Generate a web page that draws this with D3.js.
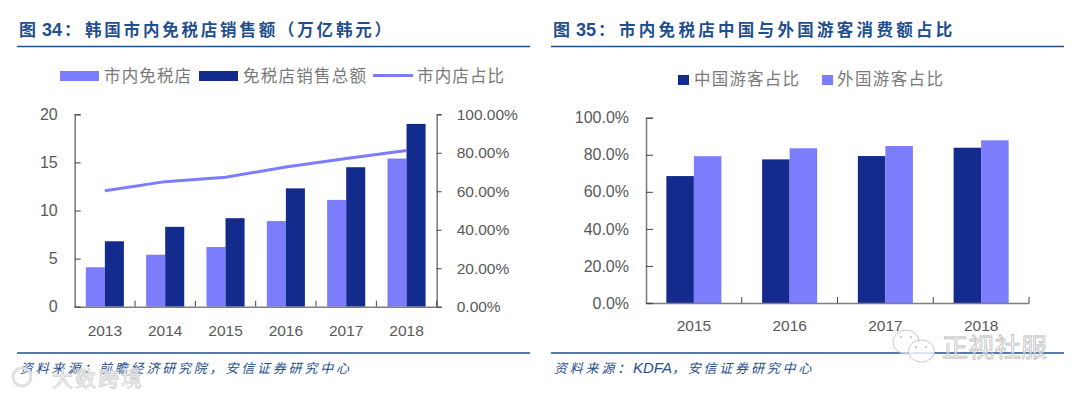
<!DOCTYPE html>
<html>
<head>
<meta charset="utf-8">
<script src="https://cdn.jsdelivr.net/npm/d3@7"></script>
<style>
    html, body { margin: 0; padding: 0; background: #fff; }
    svg { display: block; }
    text { font-family: "Noto Sans CJK SC", sans-serif; }
    .tick text, .num { font-family: "Liberation Sans", sans-serif; }
</style>
</head>
<body>
<div class="canvas"></div>
<script>
// left chart data
const years34 = ['2013', '2014', '2015', '2016', '2017', '2018'];
const citySales = [4.1, 5.4, 6.2, 8.9, 11.1, 15.4];
const totalSales = [6.8, 8.3, 9.2, 12.3, 14.5, 19.0];
const cityShare = [60.3, 65, 67.3, 72.6, 77, 81.2];
const ticks34Left = [0, 5, 10, 15, 20];
const ticks34Right = [0, 20, 40, 60, 80, 100];

// right chart data
const years35 = ['2015', '2016', '2017', '2018'];
const chinaShare = [68.5, 77.5, 79.3, 83.8];
const foreignShare = [79.2, 83.5, 84.7, 87.8];
const ticks35 = [0, 20, 40, 60, 80, 100];

const DARK = '#122b8c';
const LIGHT = '#7b7dfc';
const BLUE = '#1f4f8f';
const AXIS = '#808080';
const TEXT = '#595959';

const svg = d3.select('.canvas')
    .append('svg')
    .attr('width', 1080)
    .attr('height', 394);

// header, rules and source note of one panel
function frame(x0, x1, figNo, title, spacing, sourceParts) {
    const head = svg.append('g').attr('font-weight', 700).attr('fill', BLUE);
    head.append('text').attr('x', x0 + 2).attr('y', 36).attr('font-size', 17).text('图');
    head.append('text').attr('class', 'num').attr('x', x0 + 25).attr('y', 36).attr('font-size', 18).text(figNo);
    head.append('text').attr('x', x0 + 47).attr('y', 36).attr('font-size', 16.5).text('：');
    head.append('text').attr('x', x0 + 68).attr('y', 36).attr('font-size', 16.5)
        .attr('letter-spacing', spacing).text(title);

    [46.5, 353].forEach(y => {
        svg.append('line').attr('x1', x0).attr('x2', x1).attr('y1', y).attr('y2', y)
            .attr('stroke', BLUE).attr('stroke-width', 1.5);
    });

    const src = svg.append('text').attr('x', x0 + 3).attr('y', 373)
        .attr('font-style', 'italic').attr('fill', BLUE);
    sourceParts.forEach(part => {
        const latin = /^[A-Z]+$/.test(part);
        src.append('tspan')
            .attr('class', latin ? 'num' : null)
            .attr('font-size', latin ? 15 : 13)
            .attr('letter-spacing', latin ? 0 : 2.8)
            .text(part);
    });
}

function legendText(x, y, len, label) {
    svg.append('text').attr('x', x).attr('y', y)
        .attr('font-size', 16.5).attr('fill', '#7a7a7a')
        .attr('textLength', len).attr('lengthAdjust', 'spacing')
        .text(label);
}

// tick marks between the categories, pointing up from the x axis
function bandEdges(group, x, h) {
    group.selectAll('line.edge')
        .data(x.domain())
        .enter()
        .append('line')
        .attr('class', 'edge')
        .attr('x1', d => x(d) + x.step())
        .attr('x2', d => x(d) + x.step())
        .attr('y1', h)
        .attr('y2', h - 6)
        .attr('stroke', '#444');
}

function styleAxis(group, size) {
    group.selectAll('.domain').attr('stroke', AXIS).attr('stroke-width', 1.6);
    group.selectAll('.tick line').attr('stroke', '#444');
    group.selectAll('.tick text').attr('fill', TEXT).attr('font-size', size);
}

function groupedBars(graph, x, series, names, colors, y, h, pad) {
    const inner = d3.scaleBand()
        .domain(names)
        .range([0, x.bandwidth()])
        .paddingInner(0)
        .paddingOuter(pad);
    names.forEach((name, i) => {
        graph.selectAll('rect.s' + i)
            .data(series[i])
            .enter()
            .append('rect')
            .attr('class', 's' + i)
            .attr('x', (d, j) => x(x.domain()[j]) + inner(name))
            .attr('y', d => y(d))
            .attr('width', inner.bandwidth())
            .attr('height', d => h - y(d))
            .attr('fill', colors[i]);
    });
}

/* figure 34 */
frame(17, 530, '34', '韩国市内免税店销售额（万亿韩元）', 2.8, ['资料来源：前瞻经济研究院，安信证券研究中心']);

const w34 = 362, h34 = 192.4;
const g34 = svg.append('g').attr('transform', 'translate(74.7, 114.3)');

const x34 = d3.scaleBand().domain(years34).range([0, w34]);
const y34 = d3.scaleLinear().domain([0, 20]).range([h34, 0]);
const yShare34 = d3.scaleLinear().domain([0, 100]).range([h34, 0]);

groupedBars(g34, x34, [citySales, totalSales], ['city', 'total'], [LIGHT, DARK], y34, h34, 0.585);

const share34 = d3.line()
    .x((d, i) => x34(years34[i]) + x34.bandwidth() / 2)
    .y(d => yShare34(d));

g34.append('path')
    .attr('d', share34(cityShare))
    .attr('fill', 'none')
    .attr('stroke', LIGHT)
    .attr('stroke-width', 3);

const xAxis34 = g34.append('g').attr('transform', `translate(0, ${h34})`)
    .call(d3.axisBottom(x34).tickSize(0).tickPadding(18));
const yAxis34 = g34.append('g')
    .call(d3.axisLeft(y34).tickValues(ticks34Left).tickSize(-6).tickPadding(17));
const yAxisR34 = g34.append('g').attr('transform', `translate(${w34}, 0)`)
    .call(d3.axisRight(yShare34).tickValues(ticks34Right).tickSize(5).tickPadding(15)
        .tickFormat(d => d.toFixed(2) + '%'));

styleAxis(xAxis34, 15.5);
styleAxis(yAxis34, 16);
styleAxis(yAxisR34, 15.5);
bandEdges(g34, x34, h34);

svg.append('rect').attr('x', 60).attr('y', 71).attr('width', 39).attr('height', 10).attr('fill', LIGHT);
legendText(104, 82, 87, '市内免税店');
svg.append('rect').attr('x', 199).attr('y', 71).attr('width', 39).attr('height', 10).attr('fill', DARK);
legendText(243, 82, 123, '免税店销售总额');
svg.append('line').attr('x1', 373).attr('x2', 413).attr('y1', 75.5).attr('y2', 75.5)
    .attr('stroke', LIGHT).attr('stroke-width', 3);
legendText(417, 82, 87, '市内店占比');

/* figure 35 */
frame(551, 1064, '35', '市内免税店中国与外国游客消费额占比', 3.3, ['资料来源：', 'KDFA', '，安信证券研究中心']);

const w35 = 383, h35 = 185.3;
const g35 = svg.append('g').attr('transform', 'translate(646, 117.7)');

const x35 = d3.scaleBand().domain(years35).range([0, w35]);
const y35 = d3.scaleLinear().domain([0, 100]).range([h35, 0]);

groupedBars(g35, x35, [chinaShare, foreignShare], ['china', 'foreign'], [DARK, LIGHT], y35, h35, 0.74);

const xAxis35 = g35.append('g').attr('transform', `translate(0, ${h35})`)
    .call(d3.axisBottom(x35).tickSize(0).tickPadding(17));
const yAxis35 = g35.append('g')
    .call(d3.axisLeft(y35).tickValues(ticks35).tickSize(-7).tickPadding(17)
        .tickFormat(d => d.toFixed(1) + '%'));

styleAxis(xAxis35, 15.5);
styleAxis(yAxis35, 16);
bandEdges(g35, x35, h35);

svg.append('rect').attr('x', 678).attr('y', 75).attr('width', 11).attr('height', 10).attr('fill', DARK);
legendText(694, 85, 105, '中国游客占比');
svg.append('rect').attr('x', 822).attr('y', 75).attr('width', 11).attr('height', 10).attr('fill', LIGHT);
legendText(837, 85, 106, '外国游客占比');

/* watermarks */
const wm = svg.append('g').attr('fill', '#fff').attr('stroke', '#bdbdbd').attr('stroke-width', 0.8);
wm.append('text').attr('x', 942).attr('y', 357).attr('font-size', 26).attr('fill-opacity', 0.55)
    .attr('textLength', 105).text('正视社服');
wm.append('ellipse').attr('cx', 906).attr('cy', 342).attr('rx', 13).attr('ry', 12).attr('fill-opacity', 0.6);
wm.append('ellipse').attr('cx', 921.5).attr('cy', 351).attr('rx', 13).attr('ry', 11).attr('fill-opacity', 0.8);
[[901, 337], [911, 337], [916, 347], [926, 347]].forEach(d => {
    wm.append('circle').attr('cx', d[0]).attr('cy', d[1]).attr('r', 1).attr('fill', '#bdbdbd').attr('stroke', 'none');
});
wm.append('text').attr('x', 52).attr('y', 386).attr('font-size', 21).attr('fill-opacity', 0.85)
    .attr('stroke', '#d2d2d2').attr('textLength', 90).text('大数跨境');
wm.append('circle').attr('cx', 22).attr('cy', 377).attr('r', 9).attr('fill', 'none').attr('stroke', '#e0e0e0').attr('stroke-width', 3);
</script>
</body>
</html>
